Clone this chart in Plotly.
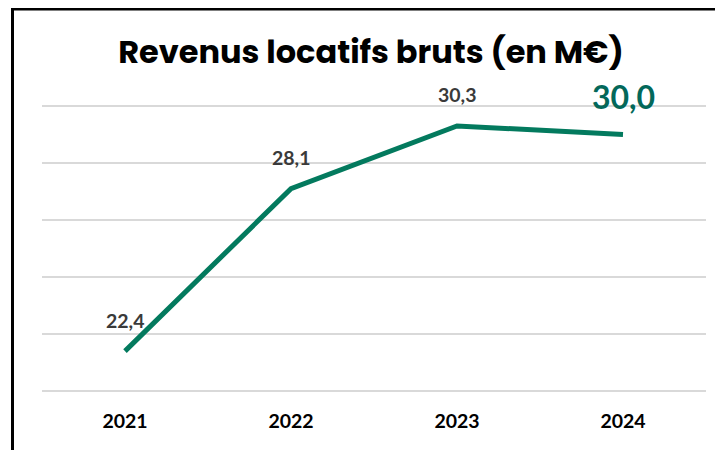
import plotly.graph_objects as go

years = [2021, 2022, 2023, 2024]
year_labels = ["2021", "2022", "2023", "2024"]
revenus = [22.4, 28.1, 30.3, 30.0]
labels = ["22,4", "28,1", "30,3", "30,0"]
grid_vals = [21, 23, 25, 27, 29, 31]

LINE = "#037A5E"
LBL_FONT = "Lato, 'Open Sans', sans-serif"

# page has an 8px body margin: figure is sized/placed to compensate
W, H = 715, 442
L, R, T, B = 34, 17, 94, 55
PW, PH = W - L - R, H - T - B

fig = go.Figure()
fig.add_trace(go.Scatter(
    x=years, y=revenus, mode="lines",
    line=dict(color=LINE, width=5),
    hoverinfo="skip",
))

annotations = []
for i, (yr, v, t) in enumerate(zip(years, revenus, labels)):
    last = i == len(years) - 1
    annotations.append(dict(
        x=yr, y=v, xref="x", yref="y", text=f"<b>{t}</b>", showarrow=False,
        xanchor="center", yanchor="middle",
        yshift=38 if last else 31,
        font=dict(family=LBL_FONT, size=32 if last else 19.5,
                  color="#03685A" if last else "#3A3A3A"),
    ))

fig.update_layout(
    width=W, height=H,
    margin=dict(l=L, r=R, t=T, b=B),
    paper_bgcolor="white", plot_bgcolor="white",
    showlegend=False,
    title=dict(text="<b>Revenus locatifs bruts (en M€)</b>",
               x=363 / W, xanchor="center", y=1 - 44 / H, yanchor="middle",
               font=dict(family="Poppins, Inter, Roboto, sans-serif", size=32, color="black")),
    xaxis=dict(type="linear", range=[2020.5, 2024.5], tickvals=years,
               ticktext=[f"<b>{s}</b>" for s in year_labels],
               showgrid=False, zeroline=False, showline=False, ticks="",
               ticklabelstandoff=12,
               tickfont=dict(family=LBL_FONT, size=19.5, color="black")),
    yaxis=dict(range=[20.86, 31.14], tickmode="array", tickvals=grid_vals,
               showticklabels=False,
               showgrid=True, gridcolor="#D9D9D9", gridwidth=1.5,
               zeroline=False, showline=False, ticks=""),
    annotations=annotations,
    shapes=[
        dict(type="line", xref="paper", yref="paper",
             x0=(3 - L) / PW, x1=(W - L) / PW, y0=(H - B - 1.2) / PH, y1=(H - B - 1.2) / PH,
             line=dict(color="black", width=2.5)),
        dict(type="line", xref="paper", yref="paper",
             x0=(4.5 - L) / PW, x1=(4.5 - L) / PW, y0=(H - B) / PH, y1=-B / PH,
             line=dict(color="black", width=3)),
    ],
)

fig.write_html("out.html")
